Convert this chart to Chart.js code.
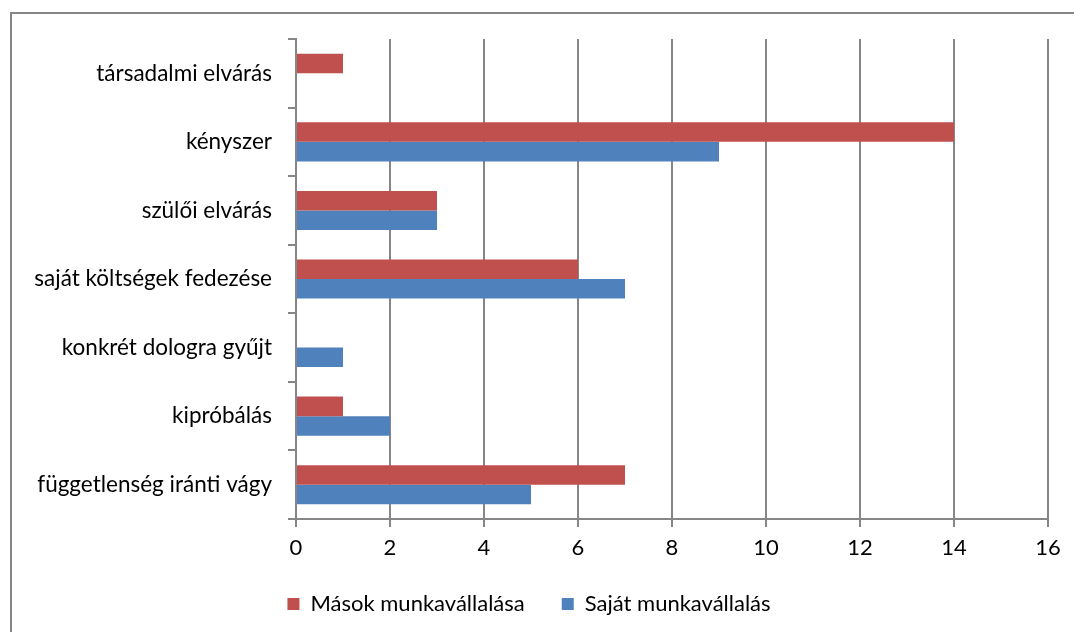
<!DOCTYPE html>
<html>
<head>
<meta charset="utf-8">
<script src="https://cdn.jsdelivr.net/npm/chart.js@4"></script>
<style>
	html, body { margin: 0; padding: 0; background: #fff; overflow: hidden; }
	#wrap { position: relative; width: 1074px; height: 632px; }
	#frame { position: absolute; left: 10px; top: 12px; width: 1100px; height: 700px; border: 2px solid #868686; box-sizing: border-box; }
	canvas { position: absolute; left: 0; top: 0; }
</style>
</head>
<body>
<div id="wrap">
	<div id="frame"></div>
	<canvas id="chart" width="1074" height="632"></canvas>
</div>
<script>
// chart data
const categories = [
	'társadalmi elvárás',
	'kényszer',
	'szülői elvárás',
	'saját költségek fedezése',
	'konkrét dologra gyűjt',
	'kipróbálás',
	'függetlenség iránti vágy',
];
const masokValues = [1, 14, 3, 6, 0, 1, 7];
const sajatValues = [0, 9, 3, 7, 1, 2, 5];
const xTicks = [0, 2, 4, 6, 8, 10, 12, 14, 16];

const gridColor = '#868686';
const fontFamily = 'Lato, "Open Sans", sans-serif';

const chartCanvas = document.getElementById('chart');

const chartData = {
	labels: categories,
	datasets: [
		{
			label: 'Mások munkavállalása',
			data: masokValues,
			backgroundColor: '#C0504D',
			categoryPercentage: 0.57,
			barPercentage: 1,
		},
		{
			label: 'Saját munkavállalás',
			data: sajatValues,
			backgroundColor: '#4F81BD',
			categoryPercentage: 0.57,
			barPercentage: 1,
		},
	],
};

const chartOptions = {
	indexAxis: 'y',
	responsive: false,
	animation: false,
	layout: {
		padding: { left: 10, right: 26, top: 39, bottom: 7 },
	},
	scales: {
		x: {
			min: 0,
			max: 16,
			afterBuildTicks: (axis) => {
				axis.ticks = xTicks.map((v) => ({ value: v }));
			},
			afterFit: (axis) => {
				axis.height = 37;
			},
			grid: {
				color: gridColor,
				lineWidth: 2,
				tickLength: 8,
				drawTicks: true,
			},
			border: { color: gridColor, width: 2 },
			ticks: {
				color: '#000',
				font: { family: fontFamily, size: 22 },
				padding: 8,
			},
		},
		y: {
			afterFit: (axis) => {
				axis.width = 286;
			},
			grid: {
				offset: true,
				drawOnChartArea: false,
				color: gridColor,
				lineWidth: 2,
				tickLength: 8,
			},
			border: { color: gridColor, width: 2 },
			ticks: {
				color: '#000',
				font: { family: fontFamily, size: 22.5 },
				padding: 16,
			},
		},
	},
	plugins: {
		legend: {
			position: 'bottom',
			labels: {
				color: '#000',
				font: { family: fontFamily, size: 22 },
				boxWidth: 12,
				boxHeight: 12,
				padding: 37,
			},
		},
		tooltip: { enabled: false },
	},
};

const barChart = new Chart(chartCanvas, {
	type: 'bar',
	data: chartData,
	options: chartOptions,
});
</script>
</body>
</html>
